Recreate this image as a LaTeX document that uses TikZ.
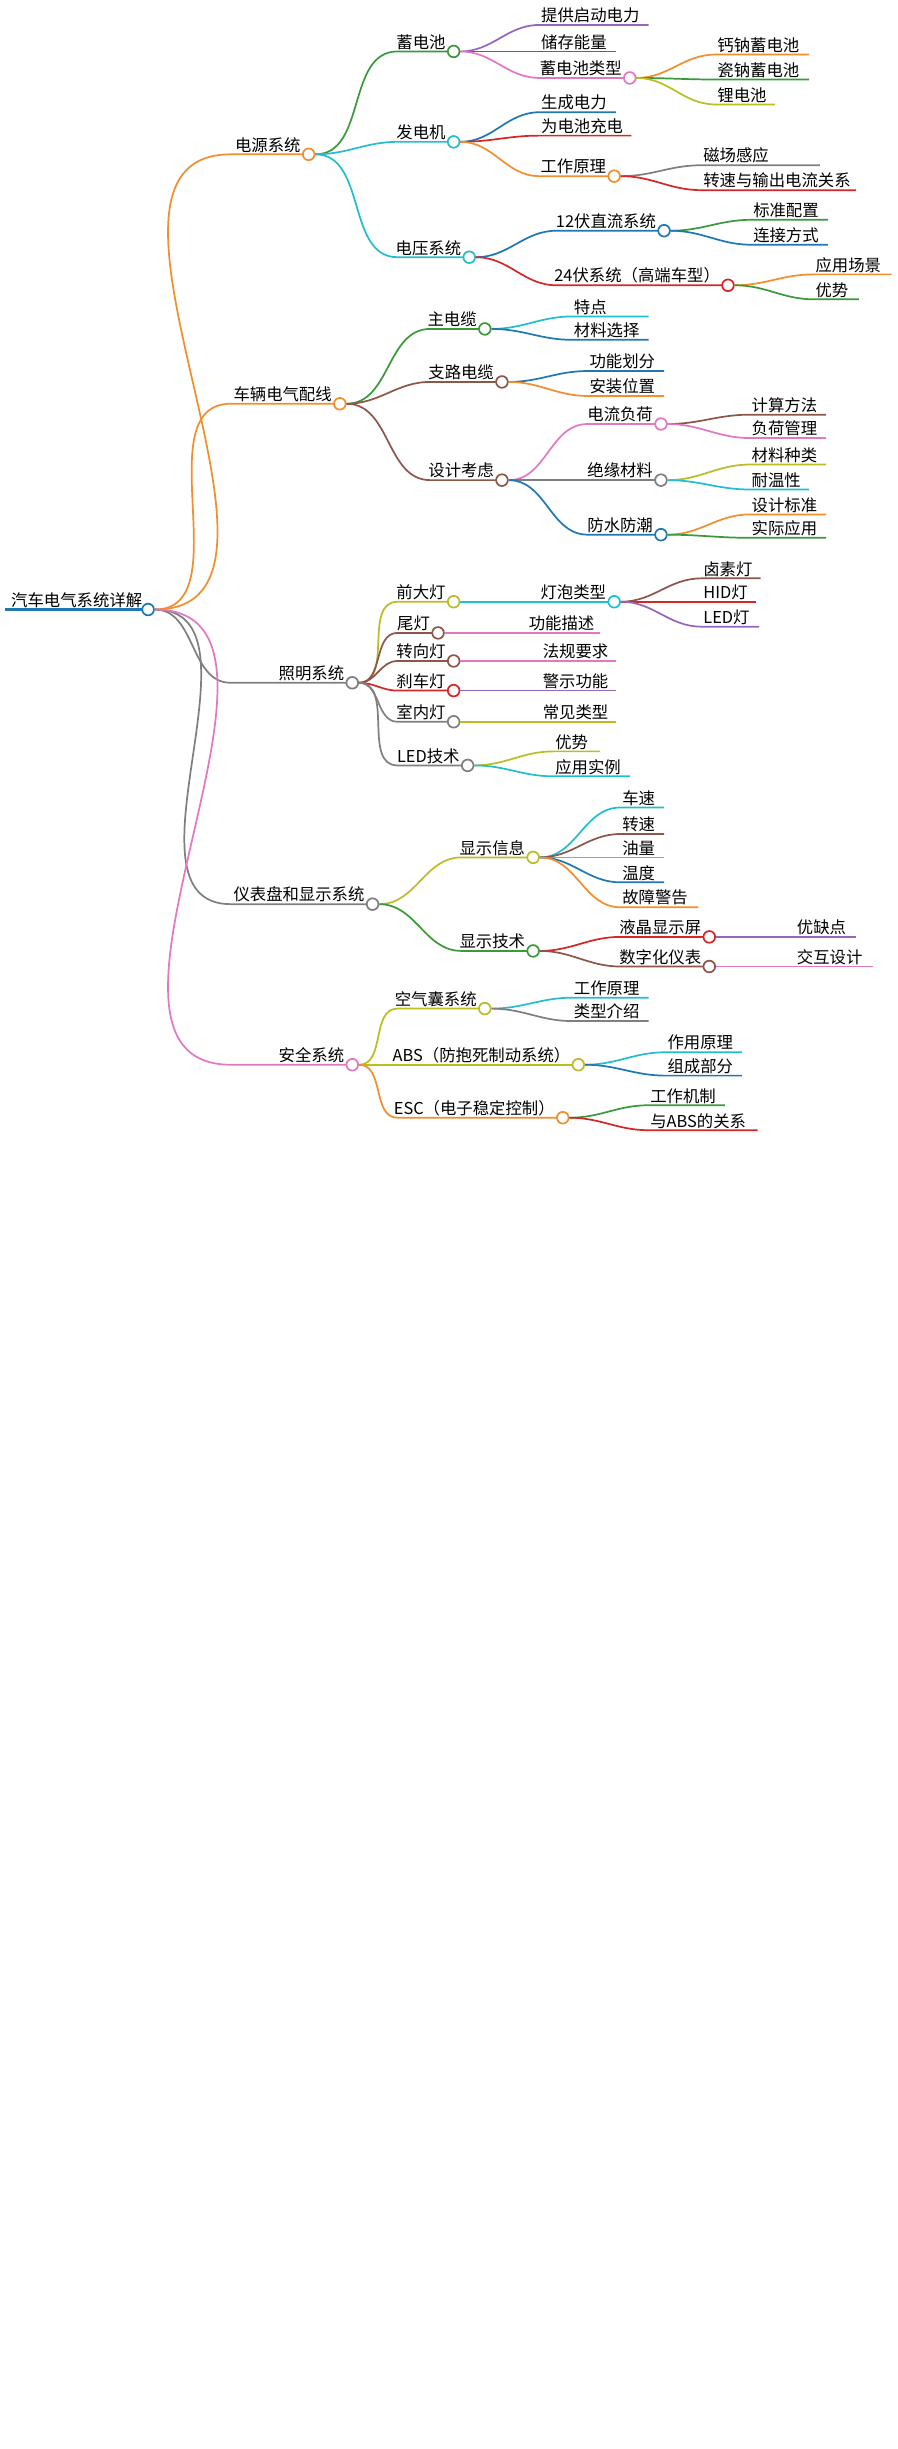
\documentclass[tikz,border=0pt]{standalone}
\usepackage{fontspec}
\setmainfont{Noto Sans CJK SC}
\definecolor{cor}{HTML}{F28E2B}
\definecolor{cgr}{HTML}{3A9A3A}
\definecolor{ccy}{HTML}{22BECF}
\definecolor{cpk}{HTML}{E377C2}
\definecolor{cpu}{HTML}{9467BD}
\definecolor{cbr}{HTML}{8C564B}
\definecolor{crd}{HTML}{D62728}
\definecolor{cbl}{HTML}{1F77B4}
\definecolor{cgy}{HTML}{7F7F7F}
\definecolor{col}{HTML}{BCBD22}
\tikzset{
  edge/.style={line width=1.1pt},
  dot/.style={circle, fill=white, line width=1.1pt, minimum size=7.5pt, inner sep=0pt},
  lbl/.style={font=\fontsize{10.5}{12}\selectfont, inner sep=1pt}
}
% branch with circle: name, parent, start x, circle x, y, colour, text
\newcommand\mmbranch[7]{%
  \coordinate (#1s) at (#3,#5);
  \draw[edge,#6] (#2.east) to[out=0,in=180] (#1s) -- (#4-3.75,#5);
  \node[dot,draw=#6] (#1) at (#4,#5) {};
  \node[lbl,anchor=south east] (#1t) at (#4-4,#5) {#7};}
% leaf: name, parent, start x, end x, y, colour, text
\newcommand\mmleaf[7]{%
  \coordinate (#1s) at (#3,#5);
  \coordinate (#1) at (#4,#5);
  \draw[edge,#6] (#2.east) to[out=0,in=180] (#1s) -- (#1);
  \node[lbl,anchor=south west] (#1t) at (#1s) {#7};}
\begin{document}
\begin{tikzpicture}[x=1pt,y=-1pt]
  \useasboundingbox (0,0) rectangle (576,1571);
  % root
  \draw[line width=2.5pt, cbl] (3,391) -- (91,391);
  \node[dot,draw=cbl] (root) at (95,391) {};
  \node[lbl,anchor=south west] (roott) at (6,391) {汽车电气系统详解};
  % power
  \mmbranch{pw}{root}{148}{198}{99}{cor}{电源系统}
  \mmbranch{bat}{pw}{255}{291}{33}{cgr}{蓄电池}
  \mmleaf{bat1}{bat}{346}{416}{16}{cpu}{提供启动电力}
  \mmleaf{bat2}{bat}{346}{395}{33}{cbr}{储存能量}
  \mmbranch{bt}{bat}{346}{404}{50}{cpk}{蓄电池类型}
  \mmleaf{bt1}{bt}{459}{519}{35}{cor}{钙钠蓄电池}
  \mmleaf{bt2}{bt}{459}{519}{51}{cgr}{瓷钠蓄电池}
  \mmleaf{bt3}{bt}{459}{497}{67}{col}{锂电池}
  \mmbranch{gen}{pw}{255}{291}{91}{ccy}{发电机}
  \mmleaf{gen1}{gen}{346}{395}{72}{cbl}{生成电力}
  \mmleaf{gen2}{gen}{346}{405}{87}{crd}{为电池充电}
  \mmbranch{gw}{gen}{346}{394}{113}{cor}{工作原理}
  \mmleaf{gw1}{gw}{450}{526}{106}{cgy}{磁场感应}
  \mmleaf{gw2}{gw}{450}{549}{122}{crd}{转速与输出电流关系}
  \mmbranch{vs}{pw}{255}{301}{165}{ccy}{电压系统}
  \mmbranch{v12}{vs}{357}{426}{148}{cbl}{12伏直流系统}
  \mmleaf{v121}{v12}{482}{531}{141}{cgr}{标准配置}
  \mmleaf{v122}{v12}{482}{531}{157}{cbl}{连接方式}
  \mmbranch{v24}{vs}{357}{467}{183}{crd}{24伏系统（高端车型）}
  \mmleaf{v241}{v24}{522}{572}{176}{cor}{应用场景}
  \mmleaf{v242}{v24}{522}{551}{192}{cgr}{优势}
  % wiring
  \mmbranch{wr}{root}{148}{218}{259}{cor}{车辆电气配线}
  \mmbranch{mc}{wr}{276}{311}{211}{cgr}{主电缆}
  \mmleaf{mc1}{mc}{367}{416}{203}{ccy}{特点}
  \mmleaf{mc2}{mc}{367}{416}{218}{cbl}{材料选择}
  \mmbranch{bc}{wr}{276}{322}{245}{cbr}{支路电缆}
  \mmleaf{bc1}{bc}{377}{426}{238}{cbl}{功能划分}
  \mmleaf{bc2}{bc}{377}{426}{254}{cor}{安装位置}
  \mmbranch{dc}{wr}{276}{322}{308}{cbr}{设计考虑}
  \mmbranch{cl}{dc}{377}{424}{272}{cpk}{电流负荷}
  \mmleaf{cl1}{cl}{481}{530}{266}{cbr}{计算方法}
  \mmleaf{cl2}{cl}{481}{530}{281}{cpk}{负荷管理}
  \mmbranch{im}{dc}{377}{424}{308}{cgy}{绝缘材料}
  \mmleaf{im1}{im}{481}{530}{298}{col}{材料种类}
  \mmleaf{im2}{im}{481}{519}{314}{ccy}{耐温性}
  \mmbranch{wp}{dc}{377}{424}{343}{cbl}{防水防潮}
  \mmleaf{wp1}{wp}{481}{530}{330}{cor}{设计标准}
  \mmleaf{wp2}{wp}{481}{530}{345}{cgr}{实际应用}
  % lighting
  \mmbranch{lt}{root}{148}{226}{438}{cgy}{照明系统}
  \mmbranch{hl}{lt}{255}{291}{386}{col}{前大灯}
  \mmbranch{hb}{hl}{300}{394}{386}{ccy}{灯泡类型}
  \mmleaf{hb1}{hb}{450}{488}{371}{cbr}{卤素灯}
  \mmleaf{hb2}{hb}{450}{485}{386}{crd}{HID灯}
  \mmleaf{hb3}{hb}{450}{487}{402}{cpu}{LED灯}
  \mmbranch{tl}{lt}{255}{281}{406}{cbr}{尾灯}
  \mmleaf{tl1}{tl}{290}{385}{406}{cpk}{\hspace{48pt}功能描述}
  \mmbranch{ts}{lt}{255}{291}{424}{cbr}{转向灯}
  \mmleaf{ts1}{ts}{300}{395}{424}{cpk}{\hspace{47pt}法规要求}
  \mmbranch{bk}{lt}{255}{291}{443}{crd}{刹车灯}
  \mmleaf{bk1}{bk}{300}{395}{443}{cpu}{\hspace{47pt}警示功能}
  \mmbranch{il}{lt}{255}{291}{463}{cgy}{室内灯}
  \mmleaf{il1}{il}{300}{395}{463}{col}{\hspace{47pt}常见类型}
  \mmbranch{led}{lt}{255}{300}{491}{cgy}{LED技术}
  \mmleaf{led1}{led}{355}{385}{482}{col}{优势}
  \mmleaf{led2}{led}{355}{404}{498}{ccy}{应用实例}
  % dashboard
  \mmbranch{db}{root}{148}{239}{580}{cgy}{仪表盘和显示系统}
  \mmbranch{di}{db}{296}{342}{550}{col}{显示信息}
  \mmleaf{di1}{di}{398}{426}{518}{ccy}{车速}
  \mmleaf{di2}{di}{398}{426}{535}{cbr}{转速}
  \mmleaf{di3}{di}{398}{426}{550}{cpk}{油量}
  \mmleaf{di4}{di}{398}{426}{566}{cbl}{温度}
  \mmleaf{di5}{di}{398}{448}{582}{cor}{故障警告}
  \mmbranch{dt}{db}{296}{342}{610}{cgr}{显示技术}
  \mmbranch{lcd}{dt}{398}{455}{601}{crd}{液晶显示屏}
  \mmleaf{lcd1}{lcd}{464}{549}{601}{cpu}{\hspace{46pt}优缺点}
  \mmbranch{dg}{dt}{398}{455}{620}{cbr}{数字化仪表}
  \mmleaf{dg1}{dg}{464}{560}{620}{cpk}{\hspace{46pt}交互设计}
  % safety
  \mmbranch{sf}{root}{148}{226}{683}{cpk}{安全系统}
  \mmbranch{ab}{sf}{255}{311}{647}{col}{空气囊系统}
  \mmleaf{ab1}{ab}{367}{416}{640}{ccy}{工作原理}
  \mmleaf{ab2}{ab}{367}{416}{655}{cgy}{类型介绍}
  \mmbranch{abs}{sf}{255}{371}{683}{col}{ABS（防抱死制动系统）}
  \mmleaf{abs1}{abs}{427}{476}{675}{ccy}{作用原理}
  \mmleaf{abs2}{abs}{427}{476}{690}{cbl}{组成部分}
  \mmbranch{esc}{sf}{255}{361}{717}{cor}{ESC（电子稳定控制）}
  \mmleaf{esc1}{esc}{416}{465}{709}{cgr}{工作机制}
  \mmleaf{esc2}{esc}{416}{486}{725}{crd}{与ABS的关系}
\end{tikzpicture}
\end{document}
